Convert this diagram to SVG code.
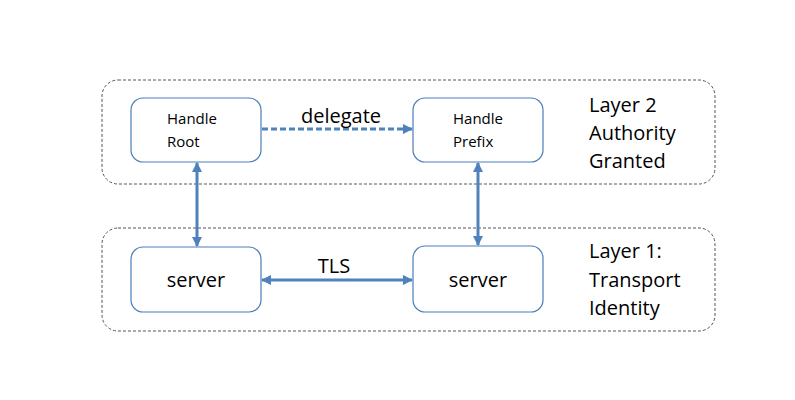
<svg xmlns="http://www.w3.org/2000/svg" width="795" height="400" viewBox="0 0 795 400">
<defs>
<style>
.layer{fill:#fff;stroke:#555;stroke-width:1;stroke-dasharray:3 2}
.node{fill:#fff;stroke:#4a7ebb;stroke-width:1.2}
.t{font-family:"Open Sans","Liberation Sans",sans-serif;fill:#000}
.s{font-size:15px}
.b{font-size:20px}
.c{stroke:#4f81bd;stroke-width:3;fill:none}
</style>
<marker id="ah" viewBox="0 0 10 10" refX="9" refY="5" markerWidth="3.5" markerHeight="3.5" orient="auto-start-reverse" markerUnits="strokeWidth">
<path d="M0,0 L10,5 L0,10 z" fill="#4f81bd"/>
</marker>
</defs>
<rect width="795" height="400" fill="#fff"/>
<g id="layer2"><rect class="layer" x="102" y="80" width="613" height="104" rx="16"/>
<text class="t b" x="589" y="112">Layer 2</text><text class="t b" x="589" y="140">Authority</text><text class="t b" x="589" y="168">Granted</text></g>
<g id="layer1"><rect class="layer" x="102" y="228" width="613" height="103" rx="16"/>
<text class="t b" x="589" y="258">Layer 1:</text><text class="t b" x="589" y="287">Transport</text><text class="t b" x="589" y="315">Identity</text></g>
<g id="handle-root"><rect class="node" x="131" y="98" width="130" height="64" rx="12"/>
<text class="t s" x="167" y="124">Handle</text><text class="t s" x="167" y="147">Root</text></g>
<g id="handle-prefix"><rect class="node" x="413" y="98" width="130" height="64" rx="12"/>
<text class="t s" x="453" y="124">Handle</text><text class="t s" x="453" y="147">Prefix</text></g>
<g id="server-left"><rect class="node" x="131" y="247" width="130" height="65" rx="12"/>
<text class="t b" x="196" y="287" text-anchor="middle">server</text></g>
<g id="server-right"><rect class="node" x="413" y="246" width="130" height="66" rx="12"/>
<text class="t b" x="478" y="287" text-anchor="middle">server</text></g>
<g id="connectors">
<line class="c" x1="262" y1="129" x2="412" y2="129" stroke-dasharray="6 3" marker-end="url(#ah)"/>
<text class="t b" x="341" y="123" text-anchor="middle">delegate</text>
<line class="c" x1="197" y1="163" x2="197" y2="246" marker-start="url(#ah)" marker-end="url(#ah)"/>
<line class="c" x1="478" y1="163" x2="478" y2="245" marker-start="url(#ah)" marker-end="url(#ah)"/>
<line class="c" x1="262" y1="280" x2="412" y2="280" marker-start="url(#ah)" marker-end="url(#ah)"/>
<text class="t b" x="334" y="273" text-anchor="middle">TLS</text>
</g>
</svg>
